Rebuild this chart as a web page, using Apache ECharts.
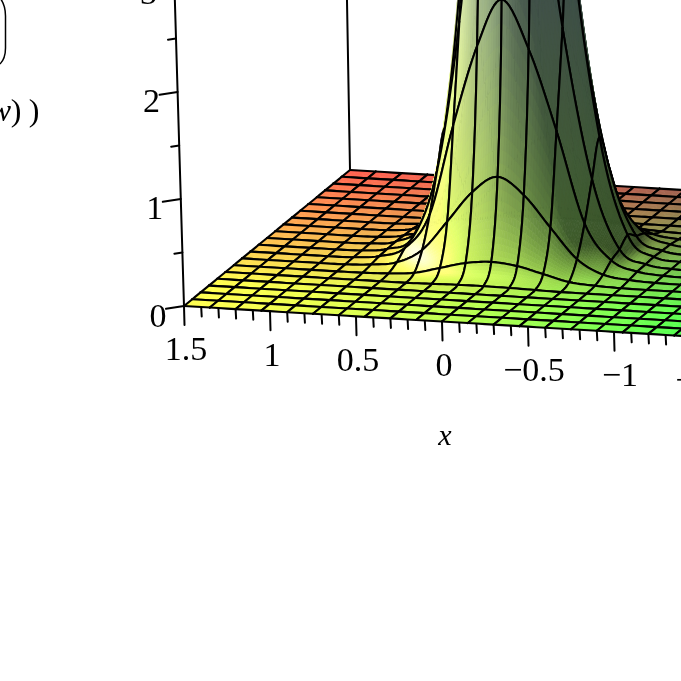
<!DOCTYPE html>
<html><head><meta charset="utf-8">
<style>html,body{margin:0;padding:0;background:#fff}#c{width:681px;height:681px}</style>
<script src="https://cdn.jsdelivr.net/npm/echarts@6/dist/echarts.min.js"></script>
</head><body><div id="c"></div>
<script>
// Height of the surface: one row per y mesh line (front to back),
// one value per x mesh line (x = 1.5 ... -1.5, step 0.15).
var row00=[0,0,0,0,0,0,0,0,0,0,0,0,0,0,0,0,0,0,0,0,0];
var row01=[0,0,0,0,0,0,0,0,0,0,0,0,0,0,0,0,0,0,0,0,0];
var row02=[0,0,0,0,0,0,0,0,0,0,0,0,0,0,0,0,0,0,0,0,0];
var row03=[0,0,0,0,0,0,0,0,0,0,0,0,0,0,0,0,0,0,0,0,0];
var row04=[0,0,0,0,0,0,0,0,0,0,0,0,0,0,0,0,0,0,0,0,0];
var row05=[0,0,0,0,0,0,0,0,0.005,0.01,0.012,0.01,0.005,0,0,0,0,0,0,0,0];
var row06=[0,0,0,0,0,0.002,0.01,0.03,0.09,0.15,0.175,0.15,0.09,0.03,0.01,0.002,0,0,0,0,0];
var row07=[0,0,0,0,0.002,0.015,0.05,0.18,0.46,0.75,0.907,0.75,0.46,0.18,0.05,0.015,0.002,0,0,0,0];
var row08=[0,0,0,0,0.005,0.03,0.12,0.45,1.3,2.05,2.5,2.05,1.3,0.45,0.12,0.03,0.005,0,0,0,0];
var row09=[0,0,0,0,0.005,0.035,0.16,0.8,2.2,4.2,5.5,4.2,2.2,0.8,0.16,0.035,0.005,0,0,0,0];
var row10=[0,0,0,0,0.008,0.04,0.23,1.13,3.2,6.8,9,6.8,3.2,1.13,0.23,0.04,0.008,0,0,0,0];
var row11=[0,0,0,0,0.005,0.035,0.16,0.8,2.2,4.2,5.5,4.2,2.2,0.8,0.16,0.035,0.005,0,0,0,0];
var row12=[0,0,0,0,0.005,0.03,0.12,0.45,1.3,2.05,2.5,2.05,1.3,0.45,0.12,0.03,0.005,0,0,0,0];
var row13=[0,0,0,0,0.002,0.015,0.05,0.18,0.46,0.75,0.907,0.75,0.46,0.18,0.05,0.015,0.002,0,0,0,0];
var row14=[0,0,0,0,0,0.002,0.01,0.03,0.09,0.15,0.175,0.15,0.09,0.03,0.01,0.002,0,0,0,0,0];
var row15=[0,0,0,0,0,0,0,0,0.005,0.01,0.012,0.01,0.005,0,0,0,0,0,0,0,0];
var row16=[0,0,0,0,0,0,0,0,0,0,0,0,0,0,0,0,0,0,0,0,0];
var row17=[0,0,0,0,0,0,0,0,0,0,0,0,0,0,0,0,0,0,0,0,0];
var row18=[0,0,0,0,0,0,0,0,0,0,0,0,0,0,0,0,0,0,0,0,0];
var row19=[0,0,0,0,0,0,0,0,0,0,0,0,0,0,0,0,0,0,0,0,0];
var row20=[0,0,0,0,0,0,0,0,0,0,0,0,0,0,0,0,0,0,0,0,0];
var xMajorTicks=[1.5,1,0.5,0,-0.5,-1,-1.5];
var xMajorLabels=['1.5','1','0.5','0','\u22120.5','\u22121','\u22121.5'];
var zMajorTicks=[0,1,2,3];
var zMinorTicks=[0.5,1.5,2.5];
var xAxisTitle='x';

var Z=[row00,row01,row02,row03,row04,row05,row06,row07,row08,row09,row10,row11,row12,row13,row14,row15,row16,row17,row18,row19,row20];
var N=20;
var SERIF='"Liberation Serif","Times New Roman",serif';

// view: oblique projection of the plot box on the page
function project(u,s,z){
  return [184+516*u+166*s-(3.2-1.3*s)*z, 306+31*u-136*s-107*z];
}
function cr(p0,p1,p2,p3,t){
  return 0.5*((2*p1)+(-p0+p2)*t+(2*p0-5*p1+4*p2-p3)*t*t+(-p0+3*p1-3*p2+p3)*t*t*t);
}
function at(j,i){j=Math.max(0,Math.min(N,j));i=Math.max(0,Math.min(N,i));return Z[j][i];}
function surf(a,b){ // a: x mesh position, b: y mesh position
  var i=Math.min(N-1,Math.floor(a)),j=Math.min(N-1,Math.floor(b)),ta=a-i,tb=b-j,v=[];
  for(var k=-1;k<3;k++) v.push(cr(at(j+k,i-1),at(j+k,i),at(j+k,i+1),at(j+k,i+2),ta));
  return Math.max(0,cr(v[0],v[1],v[2],v[3],tb));
}
function clamp(v){return Math.max(0,Math.min(255,Math.round(v)));}
function shade(a,b){
  var u=a/N,s=b/N,e=0.05;
  var zu=(surf(Math.min(N,a+e),b)-surf(Math.max(0,a-e),b))/(2*e);
  var zs=(surf(a,Math.min(N,b+e))-surf(a,Math.max(0,b-e)))/(2*e);
  var k=3, nx=-zu*k, ny=-zs*k, nz=1, l=Math.sqrt(nx*nx+ny*ny+nz*nz);
  nx/=l;ny/=l;nz/=l;
  var R=255*(1-0.72*Math.pow(u,1.5)), G=Math.min(255,285-190*s), B=80;
  var Lx=-0.72,Ly=-0.22,Lz=0.6;
  var m=Math.max(0,nx*Lx+ny*Ly+nz*Lz)/Lz;
  var f=0.36+0.64*m;
  var hh=Math.max(0,nx*-0.4+ny*-0.4+nz*0.82);
  var spec=Math.pow(hh,30)*140;
  var steep=1-nz;
  var top=Math.min(1,surf(a,b)/2.5);
  var r=Math.min(255,R*f+spec)+8*steep, g=Math.min(255,G*f+spec)+32*steep, bl=Math.min(255,B*f+spec)+18*steep;
  r*=1-0.15*top;g*=1-0.15*top;bl*=1-0.15*top;
  var luma=0.3*r+0.59*g+0.11*bl, w=0.5*top;
  r=r*(1-w)+luma*0.95*w; g=g*(1-w)+luma*1.05*w; bl=bl*(1-w)+luma*0.95*w+20*top;
  return 'rgb('+clamp(r)+','+clamp(g)+','+clamp(bl)+')';
}
var cells=[];
for(var j=N-1;j>=0;j--)for(var i=0;i<N;i++)cells.push([i,j]);

function renderCell(params,api){
  var i=api.value(0),j=api.value(1);
  var mx=Math.max(at(j,i),at(j+1,i),at(j,i+1),at(j+1,i+1),at(j-1,i),at(j,i-1),at(j+2,i+1),at(j+1,i+2));
  var n=mx>0.002?(mx>0.3?10:7):3;
  function P(a,b){var p=project(a/N,b/N,surf(a,b));return api.coord(p);}
  var kids=[],q,r;
  for(q=n-1;q>=0;q--)for(r=0;r<n;r++){
    var a0=i+r/n,a1=i+(r+1)/n,b0=j+q/n,b1=j+(q+1)/n,c=shade((a0+a1)/2,(b0+b1)/2);
    kids.push({type:'polygon',shape:{points:[P(a0,b0),P(a1,b0),P(a1,b1),P(a0,b1)]},style:{fill:c,stroke:c,lineWidth:0.7}});
  }
  var e1=[],e2=[],e3=[],e4=[];
  for(q=0;q<=n;q++){
    e1.push(P(i+q/n,j));e2.push(P(i+q/n,j+1));e3.push(P(i,j+q/n));e4.push(P(i+1,j+q/n));
  }
  [e1,e2,e3,e4].forEach(function(pts){
    kids.push({type:'polyline',shape:{points:pts},style:{fill:null,stroke:'#000',lineWidth:2.1,lineCap:'round',lineJoin:'round'}});
  });
  return {type:'group',children:kids};
}
function line(api,a,b,w){
  return {type:'line',shape:{x1:a[0],y1:a[1],x2:b[0],y2:b[1]},style:{stroke:'#000',lineWidth:w,lineCap:'round'}};
}
function renderAxes(params,api){
  var k=[],v,p,c=function(xy){return api.coord(xy);};
  k.push(line(api,c(project(0,0,0)),c(project(0,0,3.2)),2));
  k.push(line(api,c(project(0,1,0)),c(project(0,1,3.2)),2));
  for(v=15;v>=-15;v--){
    var x=v/10,u=(1.5-x)/3;p=project(u,0,0);
    var major=xMajorTicks.indexOf(x)>=0;
    k.push(line(api,c(p),c([p[0]+0.5,p[1]+(major?19:9.5)]),2));
  }
  zMajorTicks.forEach(function(z){p=project(0,0,z);k.push(line(api,c(p),c([p[0]-18,p[1]+2.8]),2));});
  zMinorTicks.forEach(function(z){p=project(0,0,z);k.push(line(api,c(p),c([p[0]-8,p[1]+1.2]),2));});
  xMajorLabels.forEach(function(t,n){
    p=project((1.5-xMajorTicks[n])/3,0,0);
    var xy=c([p[0]+(t.charAt(0)==='\u2212'?6:2),p[1]+45.5]);
    k.push({type:'text',style:{text:t,x:xy[0],y:xy[1],font:'34px '+SERIF,fill:'#000',align:'center',verticalAlign:'middle'}});
  });
  zMajorTicks.forEach(function(z){
    p=project(0,0,z);
    var xy=c([p[0]-26,p[1]+12-0.5*z]);
    k.push({type:'text',style:{text:String(z),x:xy[0],y:xy[1],font:'34px '+SERIF,fill:'#000',align:'center',verticalAlign:'middle'}});
  });
  var tp=c(project(0.5,0,0));
  k.push({type:'text',style:{text:xAxisTitle,x:tp[0]+3,y:tp[1]+116,font:'italic 30px '+SERIF,fill:'#000',align:'center',verticalAlign:'middle'}});
  return {type:'group',children:k};
}
var chart=echarts.init(document.getElementById('c'),null,{renderer:'canvas',width:681,height:681});
chart.setOption({
  animation:false,
  backgroundColor:'#fff',
  grid:{left:0,right:0,top:0,bottom:0},
  xAxis:{type:'value',min:0,max:681,show:false},
  yAxis:{type:'value',min:0,max:681,inverse:true,show:false},
  graphic:[
    {type:'bezierCurve',shape:{x1:0,y1:-2,x2:5.5,y2:16,cpx1:4,cpy1:3,cpx2:5.5,cpy2:9},style:{stroke:'#000',lineWidth:1.5,fill:null}},
    {type:'line',shape:{x1:5.5,y1:16,x2:5.5,y2:48},style:{stroke:'#000',lineWidth:1.5}},
    {type:'bezierCurve',shape:{x1:5.5,y1:48,x2:0,y2:64,cpx1:5.5,cpy1:55,cpx2:4,cpy2:60},style:{stroke:'#000',lineWidth:1.5,fill:null}},
    {type:'text',style:{text:'w',x:11,y:113,font:'italic 32px '+SERIF,fill:'#000',align:'right',verticalAlign:'middle'}},
    {type:'text',style:{text:')',x:16,y:113,font:'32px '+SERIF,fill:'#000',align:'center',verticalAlign:'middle'}},
    {type:'text',style:{text:')',x:34,y:113,font:'32px '+SERIF,fill:'#000',align:'center',verticalAlign:'middle'}}
  ],
  series:[
    {type:'custom',coordinateSystem:'cartesian2d',data:cells,renderItem:renderCell,silent:true,progressive:0,clip:false,encode:{x:0,y:1},animation:false,z:3},
    {type:'custom',coordinateSystem:'cartesian2d',data:[[0,0]],renderItem:renderAxes,silent:true,clip:false,animation:false,z:2}
  ]
});
</script></body></html>
